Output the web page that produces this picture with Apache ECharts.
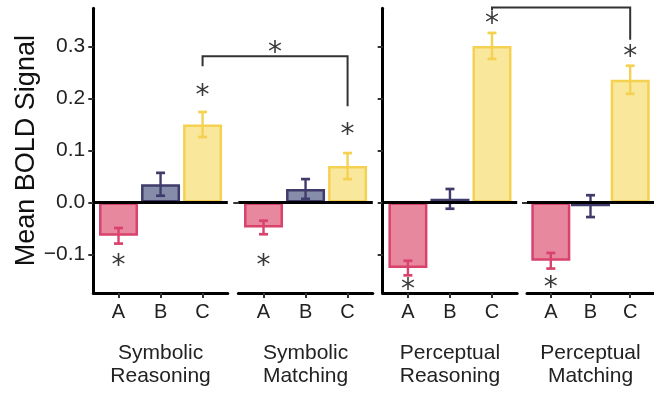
<!DOCTYPE html>
<html><head><meta charset="utf-8">
<script src="https://cdn.jsdelivr.net/npm/echarts@6/dist/echarts.min.js"></script>
<style>html,body{margin:0;padding:0;background:#fff}#c{width:654px;height:393px}</style>
</head><body><div id="c"></div>
<script>
// ---- data ----
const categories = ['A', 'B', 'C'];
const facetNames = ['Symbolic\nReasoning', 'Symbolic\nMatching', 'Perceptual\nReasoning', 'Perceptual\nMatching'];
const yTicks = [-0.1, 0, 0.1, 0.2, 0.3];

const symReasMean = [-0.064, 0.035, 0.150];
const symReasSE = [0.015, 0.022, 0.024];
const symMatchMean = [-0.048, 0.026, 0.070];
const symMatchSE = [0.013, 0.019, 0.025];
const perReasMean = [-0.126, 0.007, 0.301];
const perReasSE = [0.014, 0.019, 0.025];
const perMatchMean = [-0.112, -0.007, 0.236];
const perMatchSE = [0.015, 0.021, 0.027];

// significance asterisks: [category index, height]
const symReasStars = [[0, -0.112], [2, 0.214]];
const symMatchStars = [[0, -0.112], [2, 0.139]];
const perReasStars = [[0, -0.159], [2, 0.353]];
const perMatchStars = [[0, -0.155], [2, 0.290]];

// comparison brackets between facets (category C)
const bracketSym = { from: 0, to: 1, cat: 2, yLeft: 0.262, yTop: 0.281, yRight: 0.185, star: 0.297 };
const bracketPer = { from: 2, to: 3, cat: 2, yLeft: 0.369, yTop: 0.375, yRight: 0.313, star: null };

// ---- styling ----
const fills = ['#E8889F', '#868DAA', '#F9E79C'];
const borders = ['#D8426C', '#3F3B6B', '#F5D152'];
const FONT = "'Liberation Sans', Arial, Helvetica, sans-serif";
const STARFONT = "'DejaVu Sans', sans-serif";

const means = [symReasMean, symMatchMean, perReasMean, perMatchMean];
const ses = [symReasSE, symMatchSE, perReasSE, perMatchSE];
const stars = [symReasStars, symMatchStars, perReasStars, perMatchStars];

const lefts = [93.3, 238.3, 382.7, 527];
const gw = 134.5;
const YMIN = -0.174, YMAX = 0.3734;
const STAR_DY = 6;

const chart = echarts.init(document.getElementById('c'), null, { renderer: 'canvas' });

const grids = [], xAxes = [], yAxes = [], series = [];
for (let g = 0; g < 4; g++) {
  grids.push({ left: lefts[g], width: gw, top: 8.3, height: 286, containLabel: false });
  xAxes.push({
    type: 'value', gridIndex: g, min: -0.6, max: 2.6,
    name: facetNames[g], nameLocation: 'middle', nameGap: 49,
    nameTextStyle: { fontFamily: FONT, fontSize: 21, color: '#222', lineHeight: 23 },
    axisLine: { show: true, onZero: false, lineStyle: { color: '#000', width: 3 } },
    axisTick: { show: true, customValues: [0, 1, 2], length: 5, lineStyle: { color: '#333', width: 2 } },
    axisLabel: { show: true, customValues: [0, 1, 2], margin: 9, fontFamily: FONT, fontSize: 20, color: '#222',
      formatter: v => categories[Math.round(v)] },
    splitLine: { show: false }
  });
  const hasLine = (g === 0 || g === 2);
  yAxes.push({
    type: 'value', gridIndex: g, min: YMIN, max: YMAX,
    name: g === 0 ? 'Mean BOLD Signal' : '', nameLocation: 'middle', nameGap: 52,
    nameTextStyle: { fontFamily: FONT, fontSize: 27, color: '#111' },
    axisLine: { show: hasLine, onZero: false, lineStyle: { color: '#000', width: 3 } },
    axisTick: { show: true, customValues: hasLine ? yTicks : [0], length: 5, lineStyle: { color: '#333', width: 2 } },
    axisLabel: { show: g === 0, customValues: yTicks, margin: 8, fontFamily: FONT, fontSize: 21, color: '#222',
      formatter: v => (v < -1e-9 ? '\u2212' : '') + Math.abs(v).toFixed(1) },
    splitLine: { show: false }
  });
  series.push({
    type: 'bar', xAxisIndex: g, yAxisIndex: g, barWidth: 39, z: 2,
    data: means[g].map((v, i) => ({ value: [i, v],
      itemStyle: { color: fills[i], borderColor: borders[i], borderWidth: 2.5 } })),
    markLine: { silent: true, symbol: 'none', z: 5, label: { show: false },
      lineStyle: { color: '#000', width: 3, type: 'solid' }, data: [{ yAxis: 0 }] },
    animation: false
  });
  series.push({
    type: 'custom', xAxisIndex: g, yAxisIndex: g, z: 4,
    data: means[g].map((v, i) => [i, v, ses[g][i]]),
    renderItem: (params, api) => {
      const x = api.value(0), m = api.value(1), s = api.value(2);
      const t = api.coord([x, m + s]), b = api.coord([x, m - s]);
      const hw = 4.5, c = borders[x];
      const st = { stroke: c, lineWidth: 2.4 };
      return { type: 'group', children: [
        { type: 'line', shape: { x1: t[0], y1: t[1], x2: b[0], y2: b[1] }, style: st },
        { type: 'line', shape: { x1: t[0] - hw, y1: t[1], x2: t[0] + hw, y2: t[1] }, style: { stroke: c, lineWidth: 2.7 } },
        { type: 'line', shape: { x1: b[0] - hw, y1: b[1], x2: b[0] + hw, y2: b[1] }, style: { stroke: c, lineWidth: 2.7 } }
      ] };
    },
    animation: false
  });
  series.push({
    type: 'custom', xAxisIndex: g, yAxisIndex: g, z: 6, clip: false,
    data: stars[g],
    renderItem: (params, api) => {
      const p = api.coord([api.value(0), api.value(1)]);
      return { type: 'text', x: p[0], y: p[1] + STAR_DY,
        style: { text: '*', fontFamily: STARFONT, fontSize: 28, fill: '#3a3a3a', align: 'center', verticalAlign: 'middle' } };
    },
    animation: false
  });
}

chart.setOption({ animation: false, grid: grids, xAxis: xAxes, yAxis: yAxes, series: series });

function pt(g, x, y) { return chart.convertToPixel({ gridIndex: g }, [x, y]); }
function bracketGraphics(b) {
  const l0 = pt(b.from, b.cat, b.yLeft), lt = pt(b.from, b.cat, b.yTop);
  const rt = pt(b.to, b.cat, b.yTop), r0 = pt(b.to, b.cat, b.yRight);
  const els = [{ type: 'polyline', z: 10,
    shape: { points: [l0, lt, rt, r0] },
    style: { stroke: '#333', lineWidth: 2, fill: null } }];
  if (b.star !== null) {
    const s = pt(b.from, b.cat, b.star);
    els.push({ type: 'text', z: 10, x: (lt[0] + rt[0]) / 2, y: s[1] + STAR_DY,
      style: { text: '*', fontFamily: STARFONT, fontSize: 28, fill: '#3a3a3a', align: 'center', verticalAlign: 'middle' } });
  }
  return els;
}
chart.setOption({ graphic: { elements: bracketGraphics(bracketSym).concat(bracketGraphics(bracketPer)) } });
</script>
</body></html>
